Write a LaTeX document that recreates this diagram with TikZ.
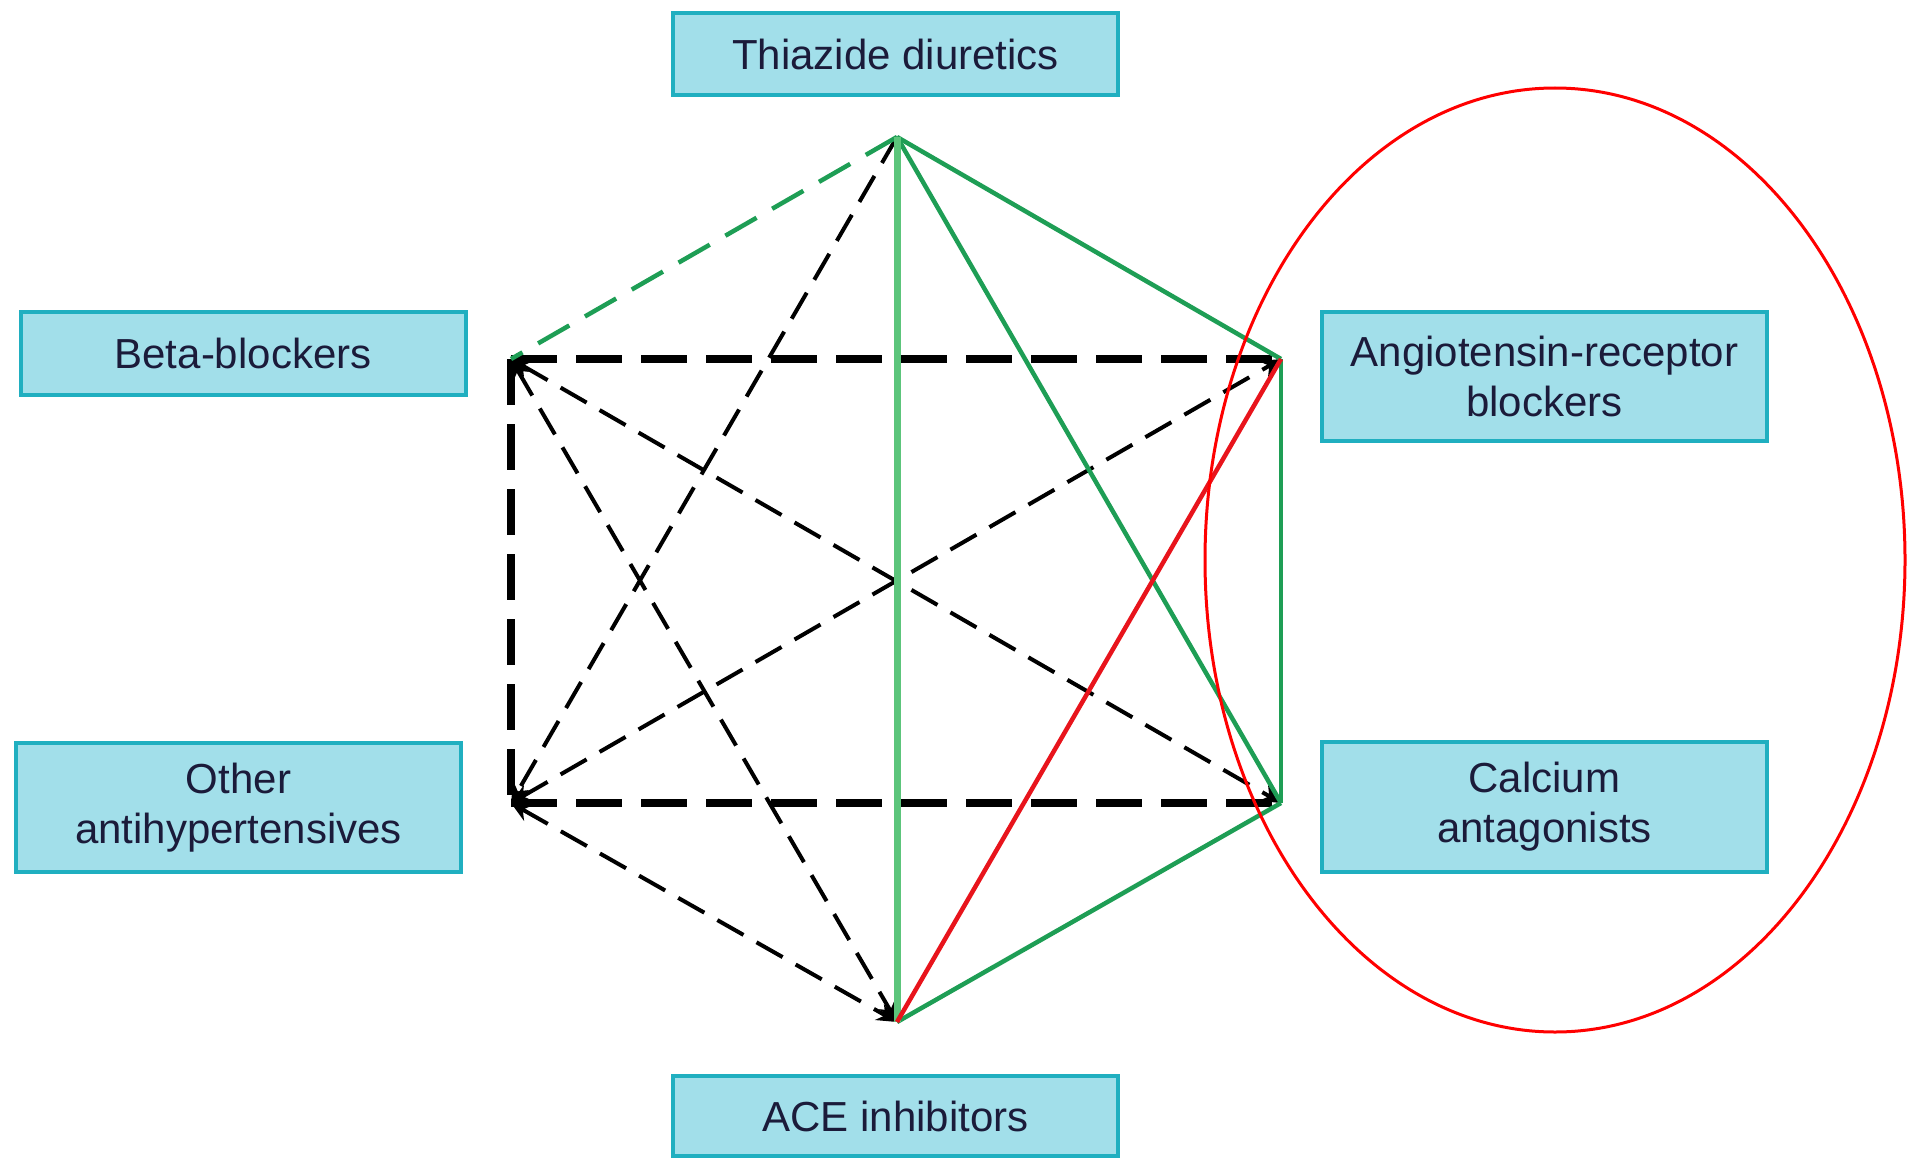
\documentclass[tikz,border=0pt]{standalone}
\usepackage{fontspec}
\setmainfont{Liberation Sans}
\usetikzlibrary{arrows.meta}
\definecolor{boxfill}{HTML}{A2DFEA}
\definecolor{boxline}{HTML}{20AFC0}
\definecolor{boxtext}{HTML}{1B1B3A}
\definecolor{trialgreen}{HTML}{1E9E55}
\definecolor{palegreen}{HTML}{5CC57B}
\definecolor{trialred}{HTML}{E8141C}

\begin{document}
\begin{tikzpicture}[x=1pt, y=-1pt,
    drug/.style={draw=boxline, fill=boxfill, line width=4pt, minimum width=445pt,
      inner sep=0pt, text=boxtext, align=center,
      font=\fontsize{42}{50}\selectfont},
    direct/.style={draw=trialgreen, line width=4.5pt},
    bridge/.style={black, line width=7.5pt, dash pattern=on 46pt off 19pt},
    indirect/.style={black, line width=4pt, dash pattern=on 30pt off 15pt},
    tip/.tip={Stealth[length=20pt, width=18pt]}]
      \useasboundingbox (0,0) rectangle (1908,1161);
      % drug classes
      \node[drug, minimum height=82pt] (thz) at (895.5,54) {Thiazide diuretics};
      \node[drug, minimum height=83pt] (bb) at (243,353.5) {Beta-blockers};
      \node[drug, minimum height=129pt] (arb) at (1544.5,376.5) {Angiotensin-receptor\\blockers};
      \node[drug, minimum height=129pt] (oth) at (238.5,807.5) {Other\\antihypertensives};
      \node[drug, minimum height=130pt] (cca) at (1544.5,807) {Calcium\\antagonists};
      \node[drug, minimum height=80pt] (ace) at (895.5,1116) {ACE inhibitors};
      % corners of the network
      \coordinate (T) at (897,137);
      \coordinate (B) at (511,359);
      \coordinate (R) at (1281,359);
      \coordinate (O) at (511,803);
      \coordinate (C) at (1281,803);
      \coordinate (A) at (897,1022);
      % indirect comparisons
      \draw[bridge] (B) -- (R);
      \draw[bridge] (B) -- (O);
      \draw[bridge] (O) -- (C);
      \draw[indirect, -tip] (T) -- (O);
      \foreach \p/\q in {B/C, O/R, B/A, O/A}
        \draw[indirect, tip-tip] (\p) -- (\q);
      % direct comparisons
      \draw[direct, dash pattern=on 36pt off 18pt] (T) -- (B);
      \foreach \p/\q in {T/R, T/C, R/C, C/A}
        \draw[direct] (\p) -- (\q);
      \draw[palegreen, line width=7pt] (T) -- (A);
      \draw[trialred, line width=4.5pt] (A) -- (R);
      \draw[red, line width=3pt] (1555,560) ellipse [x radius=350pt, y radius=472pt];
    \end{tikzpicture}
\end{document}
